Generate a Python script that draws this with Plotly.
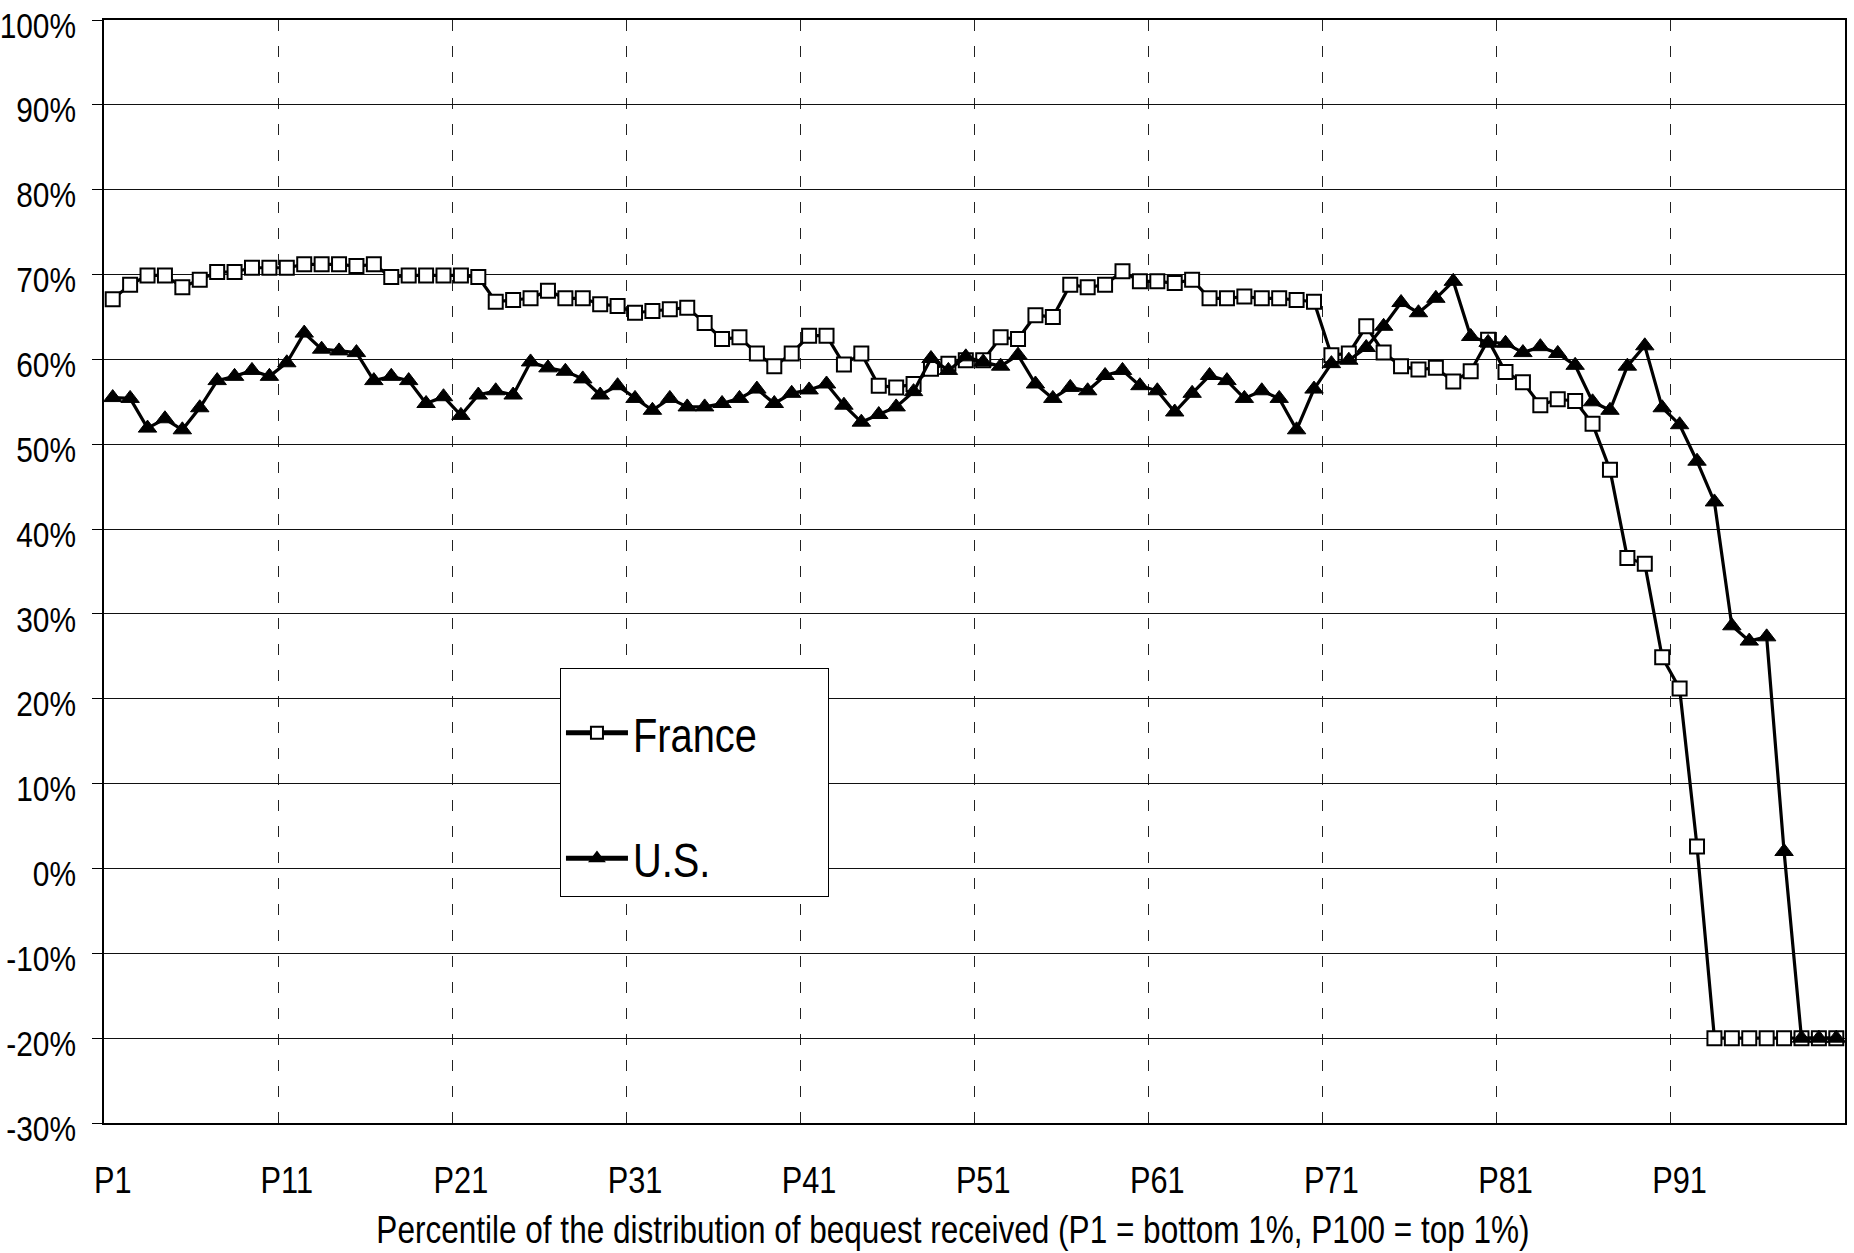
import plotly.graph_objects as go

categories = list(range(1, 101))
tick_positions = [1, 11, 21, 31, 41, 51, 61, 71, 81, 91]
tick_labels = ["P1", "P11", "P21", "P31", "P41", "P51", "P61", "P71", "P81", "P91"]
y_ticks = [-30, -20, -10, 0, 10, 20, 30, 40, 50, 60, 70, 80, 90, 100]
y_labels = [f"{v}%" for v in y_ticks]
decile_bounds = [10.5, 20.5, 30.5, 40.5, 50.5, 60.5, 70.5, 80.5, 90.5]
x_title = "Percentile of the distribution of bequest received (P1 = bottom 1%, P100 = top 1%)"

france = [
    67.1, 68.8, 69.9, 69.9, 68.5, 69.4, 70.3, 70.3, 70.8, 70.8,
    70.8, 71.2, 71.2, 71.2, 71.0, 71.2, 69.7, 69.9, 69.9, 69.9,
    69.9, 69.7, 66.8, 67.0, 67.2, 68.1, 67.2, 67.2, 66.5, 66.3,
    65.5, 65.7, 65.9, 66.1, 64.3, 62.4, 62.6, 60.7, 59.2, 60.7,
    62.8, 62.8, 59.4, 60.7, 56.9, 56.7, 57.1, 58.9, 59.5, 59.9,
    59.9, 62.6, 62.4, 65.2, 65.0, 68.8, 68.5, 68.8, 70.4, 69.2,
    69.2, 69.0, 69.4, 67.2, 67.2, 67.4, 67.2, 67.2, 67.0, 66.8,
    60.5, 60.7, 63.9, 60.8, 59.2, 58.8, 59.0, 57.4, 58.6, 62.3,
    58.5, 57.3, 54.6, 55.3, 55.1, 52.4, 47.0, 36.6, 35.9, 24.9,
    21.2, 2.6, -20, -20, -20, -20, -20, -20, -20, -20,
]

us = [
    55.5, 55.4, 51.9, 53.0, 51.7, 54.3, 57.5, 58.0, 58.7, 58.0,
    59.6, 63.1, 61.2, 61.0, 60.8, 57.5, 58.0, 57.5, 54.8, 55.6,
    53.4, 55.8, 56.3, 55.8, 59.7, 59.0, 58.6, 57.7, 55.8, 56.9,
    55.4, 54.0, 55.4, 54.4, 54.4, 54.8, 55.4, 56.5, 54.8, 56.0,
    56.4, 57.1, 54.6, 52.6, 53.5, 54.4, 56.2, 60.1, 58.7, 60.3,
    59.7, 59.2, 60.5, 57.1, 55.4, 56.7, 56.3, 58.1, 58.7, 56.9,
    56.3, 53.8, 56.0, 58.1, 57.5, 55.4, 56.3, 55.4, 51.7, 56.5,
    59.5, 59.9, 61.4, 63.9, 66.7, 65.5, 67.2, 69.2, 62.7, 62.0,
    61.9, 60.8, 61.5, 60.7, 59.3, 55.0, 54.0, 59.2, 61.6, 54.3,
    52.3, 48.0, 43.2, 28.6, 26.8, 27.3, 2.0, -20, -20, -20,
]

FONT = "Liberation Sans, Arial, Helvetica, sans-serif"
NB = "\u00a0"

fig = go.Figure()
fig.add_trace(go.Scatter(
    x=categories, y=france, mode="lines+markers",
    name="France" + NB * 3,
    legendgroup="fr",
    line=dict(color="black", width=3.2),
    marker=dict(symbol="square", size=14, color="white",
                line=dict(color="black", width=2)),
))
fig.add_trace(go.Scatter(
    x=categories, y=us, mode="lines+markers",
    name="U.S.",
    legendgroup="us",
    line=dict(color="black", width=3.2),
    marker=dict(symbol="triangle-up", size=16, color="black",
                line=dict(color="black", width=1)),
))

fig.add_annotation(
    text=x_title, xref="paper", yref="paper",
    x=0.4877, y=-0.097, xanchor="center", yanchor="middle",
    showarrow=False, font=dict(family=FONT, size=38, color="black"),
)

fig.update_layout(
    width=1854, height=1253,
    margin=dict(l=104, r=9, t=20, b=130, autoexpand=False),
    paper_bgcolor="white", plot_bgcolor="white",
    font=dict(family=FONT, size=37, color="black"),
    showlegend=True,
    legend=dict(
        x=0.2619, y=0.4124, xanchor="left", yanchor="top",
        bgcolor="white", bordercolor="black", borderwidth=1,
        font=dict(family=FONT, size=48, color="black"),
        tracegroupgap=60, itemwidth=62, itemsizing="constant",
        title=dict(text=NB, font=dict(family=FONT, size=20)),
    ),
    xaxis=dict(
        range=[0.5, 100.5], automargin=False,
        tickmode="array", tickvals=tick_positions, ticktext=tick_labels,
        showgrid=False, zeroline=False,
        showline=True, linecolor="black", linewidth=2, mirror=True,
        ticks="", ticklabelstandoff=24, ticklabeloverflow="allow",
        tickfont=dict(family=FONT, size=37),
        minor=dict(tickmode="array", tickvals=decile_bounds, showgrid=True,
                   gridcolor="#222222", gridwidth=1, griddash="11px,15px", ticks=""),
    ),
    yaxis=dict(
        range=[-30, 100], automargin=False,
        tickmode="array", tickvals=y_ticks, ticktext=y_labels,
        showgrid=True, gridcolor="#111111", gridwidth=1,
        zeroline=False,
        showline=True, linecolor="black", linewidth=1.5, mirror=True,
        ticks="outside", ticklen=10, tickwidth=1, tickcolor="black",
        ticklabelstandoff=9, ticklabelshift=5, ticklabeloverflow="allow",
        tickfont=dict(family=FONT, size=36),
    ),
)

post_js = """
(function(){
  document.documentElement.style.margin = '0';
  document.body.style.margin = '0';
  var gd = document.getElementById('{plot_id}');
  if (!gd) return;
  function squeeze(){
    var texts = gd.querySelectorAll('svg.main-svg text');
    texts.forEach(function(t){
      var cur = t.getAttribute('transform') || '';
      if (t.__sq !== undefined && t.__sq === cur) return;
      var bb;
      try { bb = t.getBBox(); } catch(e) { return; }
      if (!bb || bb.width === 0) return;
      var anchor = t.getAttribute('text-anchor') || window.getComputedStyle(t).textAnchor || 'start';
      var px = anchor === 'end' ? bb.x + bb.width : (anchor === 'middle' ? bb.x + bb.width / 2 : bb.x);
      var nt = cur + ' translate(' + px + ',0) scale(0.83,1) translate(' + (-px) + ',0)';
      t.setAttribute('transform', nt);
      t.__sq = nt;
    });
  }
  squeeze();
  if (gd.on) gd.on('plotly_afterplot', squeeze);
  setTimeout(squeeze, 150);
})();
"""

fig.write_html("out.html", post_script=post_js, config={"displayModeBar": False})
